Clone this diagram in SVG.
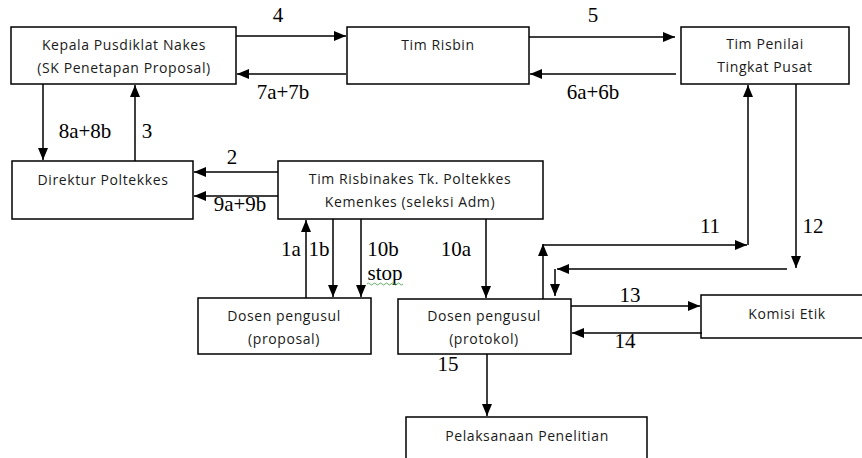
<svg xmlns="http://www.w3.org/2000/svg" width="862" height="458" viewBox="0 0 862 458">
<style>
.box{fill:#fff;stroke:#000;stroke-width:1.5}
.t{font-family:"Open Sans","Liberation Sans",sans-serif;font-size:14px;letter-spacing:0.6px;fill:#1a1a1a;text-anchor:middle}
.l{font-family:"Liberation Serif","Times New Roman",serif;font-size:21px;fill:#000;text-anchor:middle}
.c line{stroke:#000;stroke-width:1.5;fill:none}
.a{marker-end:url(#ah)}
</style>
<defs>
<marker id="ah" markerUnits="userSpaceOnUse" markerWidth="12" markerHeight="10" refX="12" refY="5" orient="auto">
<path d="M0,0 L12,5 L0,10 z" fill="#000"/>
</marker>
</defs>
<rect width="862" height="458" fill="#fff"/>
<g id="kepala"><rect class="box" x="11" y="27" width="225" height="57"/><text class="t" x="124" y="50">Kepala Pusdiklat Nakes</text><text class="t" x="124" y="73">(SK Penetapan Proposal)</text></g>
<g id="risbin"><rect class="box" x="347" y="27" width="182" height="57"/><text class="t" x="438" y="50">Tim Risbin</text></g>
<g id="penilai"><rect class="box" x="681" y="27" width="168" height="57"/><text class="t" x="765" y="49">Tim Penilai</text><text class="t" x="765" y="72">Tingkat Pusat</text></g>
<g id="direktur"><rect class="box" x="12" y="161" width="181" height="58"/><text class="t" x="103" y="185">Direktur Poltekkes</text></g>
<g id="risbinakes"><rect class="box" x="278" y="161" width="265" height="58"/><text class="t" x="410" y="184">Tim Risbinakes  Tk. Poltekkes</text><text class="t" x="410" y="207">Kemenkes (seleksi  Adm)</text></g>
<g id="proposal"><rect class="box" x="198" y="298" width="173" height="56"/><text class="t" x="284" y="321">Dosen pengusul</text><text class="t" x="284" y="344">(proposal)</text></g>
<g id="protokol"><rect class="box" x="398" y="299" width="173" height="55"/><text class="t" x="484" y="321">Dosen pengusul</text><text class="t" x="484" y="344">(protokol)</text></g>
<g id="komisi"><rect class="box" x="701" y="295" width="172" height="43"/><text class="t" x="787" y="319">Komisi Etik</text></g>
<g id="pelaksanaan"><rect class="box" x="406" y="417" width="241" height="60"/><text class="t" x="527" y="441">Pelaksanaan Penelitian</text></g>
<g id="connectors" class="c">
<line class="a" x1="236" y1="36" x2="346" y2="36"/>
<line class="a" x1="346" y1="74" x2="237" y2="74"/>
<line class="a" x1="529" y1="37" x2="675" y2="37"/>
<line class="a" x1="676" y1="74" x2="530" y2="74"/>
<line class="a" x1="43" y1="84" x2="43" y2="160"/>
<line class="a" x1="135" y1="161" x2="135" y2="85"/>
<line class="a" x1="278" y1="172" x2="194" y2="172"/>
<line class="a" x1="278" y1="196" x2="194" y2="196"/>
<line class="a" x1="306" y1="298" x2="306" y2="220"/>
<line class="a" x1="333" y1="219" x2="333" y2="297"/>
<line class="a" x1="361" y1="219" x2="361" y2="297"/>
<line class="a" x1="486" y1="219" x2="486" y2="298"/>
<line class="a" x1="543" y1="299" x2="543" y2="244"/>
<line class="a" x1="543" y1="245" x2="747" y2="245"/>
<line class="a" x1="748" y1="245" x2="748" y2="85"/>
<line class="a" x1="796" y1="84" x2="796" y2="268"/>
<line class="a" x1="787" y1="269" x2="557" y2="269"/>
<line class="a" x1="555" y1="269" x2="555" y2="296"/>
<line class="a" x1="571" y1="306" x2="700" y2="306"/>
<line class="a" x1="702" y1="333" x2="572" y2="333"/>
<line class="a" x1="487" y1="354" x2="487" y2="416"/>
</g>
<g id="labels">
<text class="l" x="278" y="22">4</text>
<text class="l" x="283" y="99">7a+7b</text>
<text class="l" x="593" y="22">5</text>
<text class="l" x="593" y="99">6a+6b</text>
<text class="l" x="85" y="138">8a+8b</text>
<text class="l" x="147" y="138">3</text>
<text class="l" x="232" y="164">2</text>
<text class="l" x="240" y="211">9a+9b</text>
<text class="l" x="291" y="256">1a</text>
<text class="l" x="319" y="256">1b</text>
<text class="l" x="383" y="256">10b</text>
<text class="l" x="385" y="280">stop</text>
<text class="l" x="456" y="256">10a</text>
<text class="l" x="710" y="233">11</text>
<text class="l" x="813" y="233">12</text>
<text class="l" x="630" y="302">13</text>
<text class="l" x="625" y="348">14</text>
<text class="l" x="448" y="371">15</text>
</g>
<path d="M367,284 q1.5,-2 3,0 t3,0 t3,0 t3,0 t3,0 t3,0 t3,0 t3,0 t3,0 t3,0 t3,0 t3,0" fill="none" stroke="#3a9a3a" stroke-width="0.8"/>
</svg>
